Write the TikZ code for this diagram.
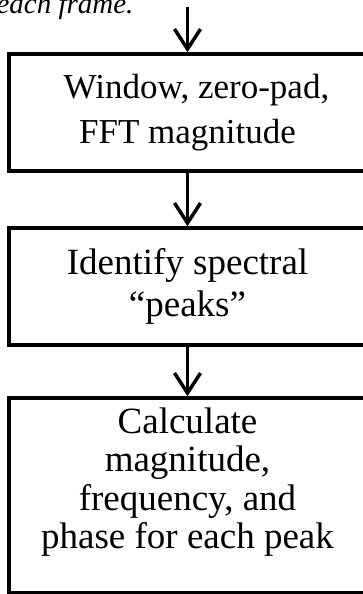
\documentclass[tikz,border=0pt]{standalone}
\usepackage{fontspec}
\setmainfont{Liberation Serif}
\usetikzlibrary{arrows.meta}
\begin{document}
\begin{tikzpicture}[x=1pt,y=-1pt,
  stepbox/.style={draw=black, line width=3.5pt, minimum width=357pt, inner sep=0pt, align=center,
    font=\fontsize{37}{38.5}\selectfont},
  flow/.style={line width=3.5pt, -{Straight Barb[length=20pt,width=26pt]}}]
\useasboundingbox (0,0) rectangle (363,594);
\node[anchor=base east, font=\fontsize{29}{34}\selectfont\itshape] (cap) at (137,14) {each frame.};
\coordinate (start) at (187.5,7);
\node[stepbox, minimum height=117pt, font=\fontsize{35}{45}\selectfont] (b1) at (187.5,112.5) {\hspace*{18pt}Window, zero-pad,\\FFT magnitude};
\node[stepbox, minimum height=117pt, font=\fontsize{37}{42}\selectfont] (b2) at (187.5,286.5) {Identify spectral\\``peaks''};
\node[stepbox, minimum height=195pt] (b3) at (187.5,495.5) {Calculate\\magnitude,\\frequency, and\\phase for each peak\\[-4pt]\mbox{}};
\draw[flow] (start) -- (b1.north);
\draw[flow] (b1.south) -- (b2.north);
\draw[flow] (b2.south) -- (b3.north);
\end{tikzpicture}
\end{document}
